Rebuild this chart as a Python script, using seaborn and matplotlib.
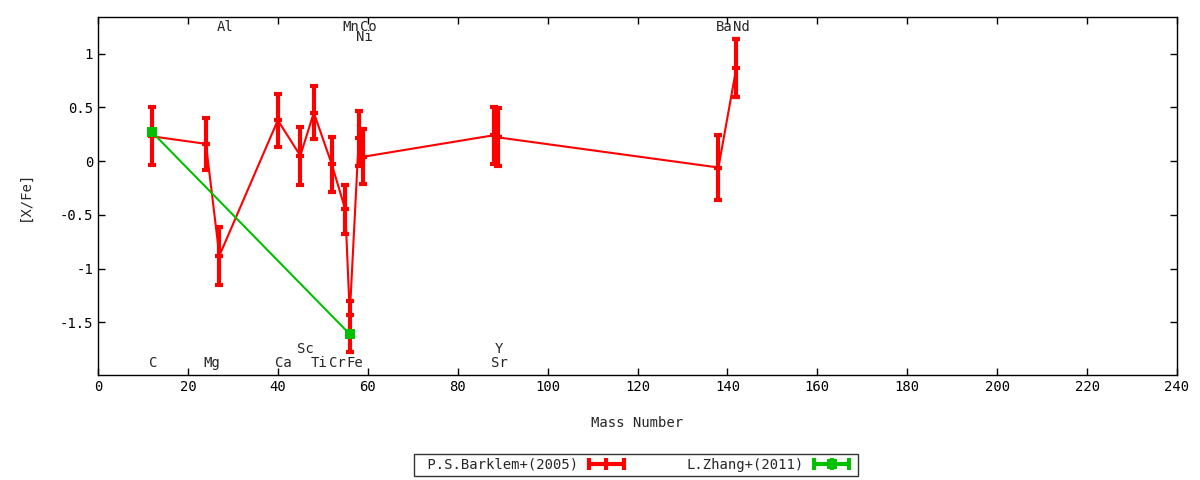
import numpy as np
import pandas as pd
import seaborn as sns
import matplotlib.pyplot as plt
from matplotlib.lines import Line2D
from matplotlib.legend_handler import HandlerTuple, HandlerLine2D
from matplotlib import transforms

# Barklem+(2005) abundances vs mass number
elements = ["C", "Mg", "Al", "Ca", "Sc", "Ti", "Cr", "Mn", "Fe", "Ni", "Co", "Sr", "Y", "Ba", "Nd"]
mass = [12, 24, 27, 40, 45, 48, 52, 55, 56, 58, 59, 88, 89, 138, 142]
xfe = [0.23, 0.16, -0.88, 0.38, 0.05, 0.45, -0.03, -0.45, -1.43, 0.21, 0.04, 0.24, 0.22, -0.06, 0.87]
err_lo = [0.27, 0.245, 0.27, 0.245, 0.27, 0.245, 0.255, 0.23, 0.35, 0.26, 0.255, 0.265, 0.27, 0.30, 0.27]
err_hi = [0.27, 0.245, 0.27, 0.245, 0.27, 0.245, 0.255, 0.23, 0.13, 0.26, 0.255, 0.265, 0.27, 0.30, 0.27]

# Zhang+(2011)
zhang_mass = [12, 56]
zhang_xfe = [0.27, -1.61]

# element label rows
label_row = [-1.88, -1.88, 1.25, -1.88, -1.75, -1.88, -1.88, 1.25, -1.88, 1.15, 1.25, -1.88, -1.75, 1.25, 1.25]

red = "#ff0000"
green = "#00c000"

sns.set_style("ticks")
plt.rcParams["font.family"] = ["DejaVu Sans Mono", "DejaVu Sans"]
plt.rcParams["xtick.direction"] = "in"
plt.rcParams["ytick.direction"] = "in"

fig = plt.figure(figsize=(12, 4.8), dpi=100)
ax = fig.add_axes([98 / 1200, 1 - 375 / 480, (1177 - 98) / 1200, (375 - 17) / 480])

df = pd.DataFrame({"mass": mass, "xfe": xfe})
dz = pd.DataFrame({"mass": zhang_mass, "xfe": zhang_xfe})

sns.lineplot(data=df, x="mass", y="xfe", sort=False, color=red, lw=1.5, ax=ax)
ax.errorbar(mass, xfe, yerr=[err_lo, err_hi], fmt="_", color=red, ms=6, mew=3,
            elinewidth=3, capsize=3, capthick=3, zorder=3)
sns.lineplot(data=dz, x="mass", y="xfe", sort=False, color=green, lw=1.5, ax=ax,
             marker="s", markersize=7, markeredgewidth=0, zorder=4)

# element names, left aligned a few pixels before the point
shift = transforms.offset_copy(ax.transData, fig=fig, x=-3, y=0, units="dots")
for el, m, yl in zip(elements, mass, label_row):
    ax.text(m, yl, el, transform=shift, ha="left", va="center", fontsize=10)

ax.set_xlim(0, 240)
ax.set_ylim(-1.99, 1.34)
ax.set_xticks(np.arange(0, 241, 20))
ax.set_yticks([-1.5, -1, -0.5, 0, 0.5, 1])
ax.set_yticklabels(["-1.5", "-1", "-0.5", "0", "0.5", "1"])
ax.tick_params(axis="both", which="both", top=True, right=True, length=5, width=1,
               labelsize=10, colors="black")
for sp in ax.spines.values():
    sp.set_visible(True)
    sp.set_linewidth(1)
    sp.set_color("black")
ax.set_xlabel("Mass Number", fontsize=10, labelpad=16)
ax.set_ylabel("[X/Fe]", fontsize=10)
ax.yaxis.set_label_coords(-(98 - 32) / 1079, 0.5)

# legend looking like gnuplot's key
h_red = Line2D([], [], color=red, lw=3, marker="|", ms=9, mew=3)
g_bar = Line2D([], [], color=green, lw=3, marker="|", ms=9, mew=3)
g_sq = Line2D([], [], color=green, lw=0, marker="s", ms=7, mew=0)
leg = fig.legend([h_red, (g_bar, g_sq)], [" P.S.Barklem+(2005)", "L.Zhang+(2011)"],
                 loc="center", bbox_to_anchor=(636 / 1200, 1 - 465 / 480), ncol=2,
                 numpoints=3, markerfirst=False, frameon=True, fancybox=False,
                 fontsize=10, handlelength=3.1, handletextpad=0.5, columnspacing=4.2,
                 borderpad=0.3,
                 handler_map={tuple: HandlerTuple(ndivide=1),
                              g_sq: HandlerLine2D(numpoints=1)})
leg.get_frame().set_edgecolor("black")
leg.get_frame().set_linewidth(1)

fig.savefig("out.png", dpi=100)
